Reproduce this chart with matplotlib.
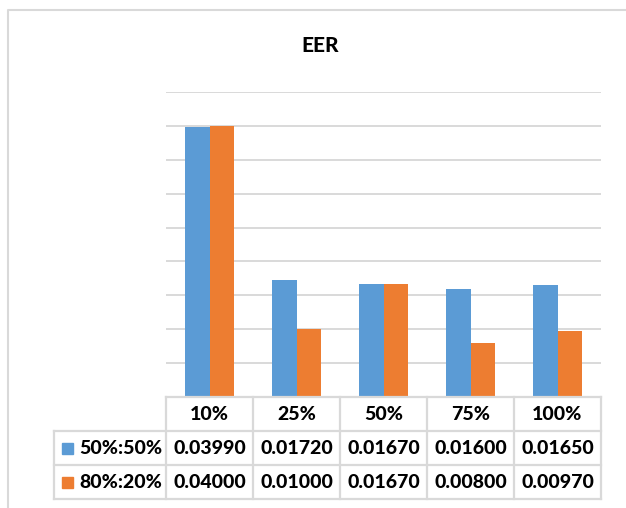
import numpy as np
import matplotlib.pyplot as plt
from matplotlib.patches import Rectangle

plt.rcParams['font.family'] = ['Lato', 'DejaVu Sans']

categories = ['10%', '25%', '50%', '75%', '100%']
series_names = ['50%:50%', '80%:20%']
eer_5050 = [0.03990, 0.01720, 0.01670, 0.01600, 0.01650]
eer_8020 = [0.04000, 0.01000, 0.01670, 0.00800, 0.00970]
colors = ['#5B9BD5', '#ED7D31']
grid_c = '#D9D9D9'

W, H = 626, 508
fig = plt.figure(figsize=(W / 100, H / 100), dpi=100)

# plot area in pixel coords
px0, px1, py_top, py_base = 166, 601, 92, 397
ax = fig.add_axes([px0 / W, 1 - py_base / H, (px1 - px0) / W, (py_base - py_top) / H])
x = np.arange(len(categories))
w = 0.28
ax.bar(x - w / 2, eer_5050, w, color=colors[0], zorder=2)
ax.bar(x + w / 2, eer_8020, w, color=colors[1], zorder=2)
ax.set_xlim(-0.5, len(categories) - 0.5)
ax.set_ylim(0, 0.045)
ax.set_yticks(np.arange(0, 0.0451, 0.005))
ax.yaxis.grid(True, color=grid_c, lw=1.4)
ax.set_axisbelow(True)
ax.tick_params(left=False, bottom=False, labelleft=False, labelbottom=False)
for s in ax.spines.values():
    s.set_visible(False)

# overlay for the data table, title and frame
ov = fig.add_axes([0, 0, 1, 1], zorder=5)
ov.patch.set_alpha(0)
ov.set_xlim(0, W)
ov.set_ylim(H, 0)
ov.axis('off')

# outer frame (left and top only)
ov.plot([8, 8, W], [H, 10, 10], color=grid_c, lw=1.5)

ov.text(320, 45, 'EER', ha='center', va='center', fontsize=15, fontweight='black')

col_edges = [54, 166, 253, 340, 427, 514, 601]
row_edges = [397, 431, 465, 499]
lk = dict(color=grid_c, lw=1.6)
ov.plot([col_edges[1], col_edges[-1]], [row_edges[0]] * 2, **lk)
for yy in row_edges[1:]:
    ov.plot([col_edges[0], col_edges[-1]], [yy, yy], **lk)
ov.plot([col_edges[0]] * 2, [row_edges[1], row_edges[-1]], **lk)
for xx in col_edges[1:]:
    ov.plot([xx, xx], [row_edges[0], row_edges[-1]], **lk)

fs = 14
for i, cat in enumerate(categories):
    cx = (col_edges[i + 1] + col_edges[i + 2]) / 2
    ov.text(cx, (row_edges[0] + row_edges[1]) / 2, cat, ha='center', va='center',
            fontsize=fs, fontweight='black')

for r, (name, vals) in enumerate(zip(series_names, [eer_5050, eer_8020])):
    cy = (row_edges[r + 1] + row_edges[r + 2]) / 2
    ov.add_patch(Rectangle((62, cy - 5.5), 11, 11, color=colors[r]))
    ov.text(79, cy, name, ha='left', va='center', fontsize=fs, fontweight='black')
    for i, v in enumerate(vals):
        cx = (col_edges[i + 1] + col_edges[i + 2]) / 2
        ov.text(cx, cy, f'{v:.5f}', ha='center', va='center', fontsize=fs, fontweight='black')

fig.savefig('out.png', dpi=100)
